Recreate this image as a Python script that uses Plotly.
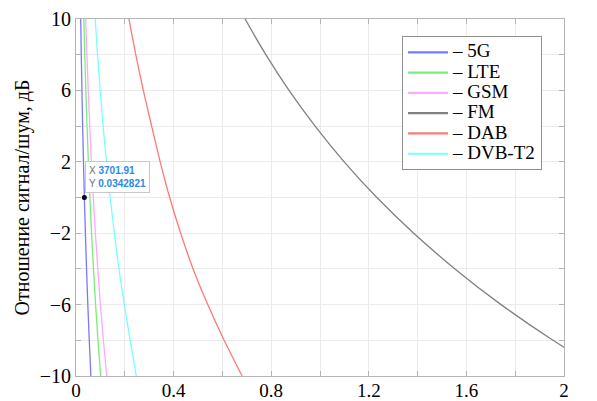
import plotly.graph_objects as go

# SNR levels (dB) at which each curve was read
snr_db = [10, 8, 6, 4, 2, 0, -2, -4, -6, -8, -10]

# distance values for each standard
d_5g = [0.0193, 0.0216, 0.0243, 0.0272, 0.0306, 0.0343, 0.0385, 0.0432, 0.0484, 0.0543, 0.0610]
d_lte = [0.0320, 0.0359, 0.0403, 0.0452, 0.0507, 0.0568, 0.0638, 0.0716, 0.0803, 0.0901, 0.1010]
d_gsm = [0.0398, 0.0447, 0.0502, 0.0563, 0.0632, 0.0709, 0.0795, 0.0892, 0.1001, 0.1123, 0.1260]
d_fm = [0.693, 0.778, 0.873, 0.980, 1.099, 1.233, 1.384, 1.553, 1.742, 1.955, 2.193]
d_dab = [0.217, 0.245, 0.276, 0.310, 0.345, 0.384, 0.429, 0.480, 0.540, 0.607, 0.681]
d_dvb = [0.0787, 0.0884, 0.0991, 0.1112, 0.1248, 0.1400, 0.1570, 0.1760, 0.1980, 0.2220, 0.2470]

series_names = ["– 5G", "– LTE", "– GSM", "– FM", "– DAB", "– DVB-T2"]
series_data = [d_5g, d_lte, d_gsm, d_fm, d_dab, d_dvb]
series_colors = ["#7878ff", "#78ee78", "#ffa8ff", "#808080", "#ff7878", "#78ffff"]

x_tickvals = [0, 0.4, 0.8, 1.2, 1.6, 2]
x_ticktext = ["0", "0.4", "0.8", "1.2", "1.6", "2"]
y_tickvals = [-10, -6, -2, 2, 6, 10]

tip_x = 3701.91
tip_y = 0.0342821
tip_point = (0.0343, 0)

fig = go.Figure()
for name, d, c in zip(series_names, series_data, series_colors):
    fig.add_trace(go.Scatter(x=d, y=snr_db, mode="lines", name=name, legendgroup=name,
                             showlegend=False,
                             line=dict(color=c, width=1.3), line_shape="spline"))
    # legend entry (thicker sample line, like the reference)
    fig.add_trace(go.Scatter(x=[None], y=[None], mode="lines", legendgroup=name,
                             name="<span style='font-size:19px'>%s</span>" % name,
                             line=dict(color=c, width=2.2)))

fig.add_trace(go.Scatter(x=[tip_point[0]], y=[tip_point[1]], mode="markers",
                         marker=dict(color="black", size=5), showlegend=False,
                         cliponaxis=False))

fig.add_annotation(
    xref="paper", yref="paper", x=0.018, y=0.603, xanchor="left", yanchor="top",
    text=("<span style='color:#707070'>X</span> <b><span style='color:#2a8ae6'>%s</span></b><br>"
          "<span style='color:#707070'>Y</span> <b><span style='color:#2a8ae6'>%s</span></b>")
         % (tip_x, tip_y),
    showarrow=False, align="left",
    font=dict(family="Liberation Sans", size=10),
    bgcolor="rgba(255,255,255,0.95)", bordercolor="#c8c8c8", borderwidth=1, borderpad=3,
)

axis_common = dict(
    showline=True, linecolor="#b4b4b4", linewidth=1, mirror="ticks",
    ticks="inside", ticklen=5, tickcolor="#b4b4b4",
    showgrid=True, gridcolor="#ebebeb", gridwidth=1, zeroline=False,
)

fig.update_xaxes(range=[0, 2], tickvals=x_tickvals, ticktext=x_ticktext,
                 tickfont=dict(family="Liberation Serif", size=19, color="black"),
                 ticklabelstandoff=-3,
                 minor=dict(tickvals=[0.2, 0.6, 1.0, 1.4, 1.8], ticks="inside", ticklen=5,
                            tickcolor="#b4b4b4", showgrid=True, gridcolor="#ebebeb"),
                 **axis_common)
fig.update_yaxes(range=[-10, 10], tickvals=y_tickvals,
                 tickfont=dict(family="Liberation Serif", size=20, color="black"),
                 minor=dict(tickvals=[-8, -4, 0, 4, 8], ticks="inside", ticklen=5,
                            tickcolor="#b4b4b4", showgrid=True, gridcolor="#ebebeb"),
                 title=dict(text="Отношение сигнал/шум, дБ",
                            font=dict(family="Liberation Serif", size=20, color="black"),
                            standoff=4),
                 **axis_common)

fig.update_layout(
    width=597, height=401,
    margin=dict(l=76, r=33, t=19, b=25, autoexpand=False),
    paper_bgcolor="white", plot_bgcolor="white",
    legend=dict(x=0.668, y=0.952, xanchor="left", yanchor="top",
                bgcolor="white", bordercolor="#909090", borderwidth=1,
                font=dict(family="Liberation Serif", size=13.3, color="black"),
                tracegroupgap=0, itemwidth=40),
    showlegend=True,
)

fig.write_html("out.html")
